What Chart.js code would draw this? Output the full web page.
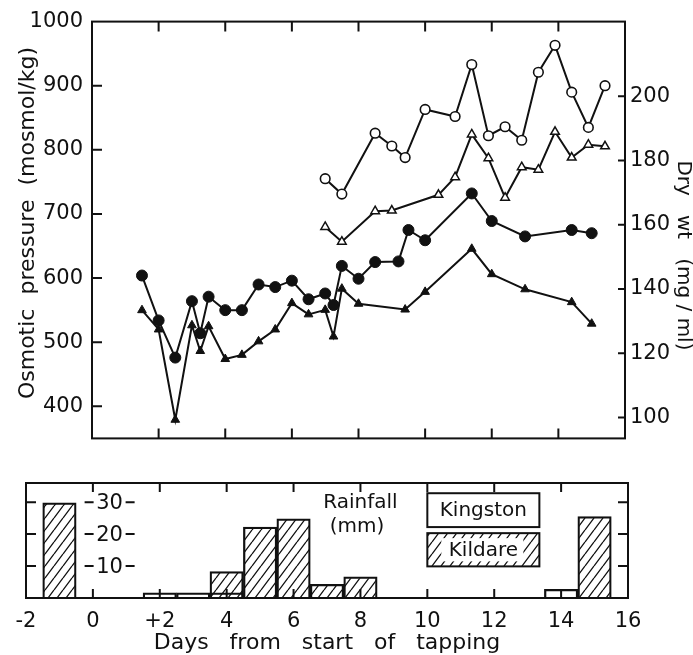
<!DOCTYPE html>
<html>
<head>
<meta charset="utf-8">
<script src="https://cdn.jsdelivr.net/npm/chart.js@4.4.1/dist/chart.umd.min.js"></script>
<style>
  html, body { margin: 0; padding: 0; background: #fff; }
  #wrap { position: relative; width: 693px; height: 655px; }
  #top { position: absolute; left: 0; top: 0; }
  #bottom { position: absolute; left: 0; top: 470px; }
</style>
</head>
<body>
<div id="wrap">
  <canvas id="top" width="693" height="460"></canvas>
  <canvas id="bottom" width="693" height="185"></canvas>
</div>
<script>
// osmotic pressure (mosmol/kg), left axis
const daysFilledCircle = [1.5, 2, 2.5, 3, 3.25, 3.5, 4, 4.5, 5, 5.5, 6, 6.5, 7, 7.25, 7.5, 8, 8.5, 9.2, 9.5, 10, 11.4, 12, 13, 14.4, 15];
const osmoticFilled = [604, 534, 476, 564, 514, 571, 550, 550, 590, 586, 596, 567, 576, 558, 619, 599, 625, 626, 675, 659, 732, 689, 665, 675, 670];
const daysOpenCircle = [7, 7.5, 8.5, 9, 9.4, 10, 10.9, 11.4, 11.9, 12.4, 12.9, 13.4, 13.9, 14.4, 14.9, 15.4];
const osmoticOpen = [755, 731, 826, 806, 788, 863, 852, 933, 822, 836, 815, 921, 963, 890, 835, 900];

// dry wt (mg/ml), right axis
const daysFilledTri = [1.5, 2, 2.5, 3, 3.25, 3.5, 4, 4.5, 5, 5.5, 6, 6.5, 7, 7.25, 7.5, 8, 9.4, 10, 11.4, 12, 13, 14.4, 15];
const dryWtFilled = [133.4, 127.4, 99.3, 128.7, 120.7, 128.4, 118.2, 119.5, 123.7, 127.4, 135.6, 132.1, 133.5, 125.2, 140.1, 135.4, 133.6, 139.1, 152.5, 144.6, 139.9, 135.9, 129.2];
const daysOpenTri = [7, 7.5, 8.5, 9, 10.4, 10.9, 11.4, 11.9, 12.4, 12.9, 13.4, 13.9, 14.4, 14.9, 15.4];
const dryWtOpen = [159.3, 154.7, 164.2, 164.4, 169.3, 174.8, 188.1, 180.7, 168.4, 177.9, 177.1, 188.9, 180.9, 184.9, 184.4];

// rainfall (mm)
const kingstonDays = [2, 3, 4, 14];
const kingstonRain = [1.6, 1.6, 1.6, 2.7];
const kildareDays = [-1, 4, 5, 6, 7, 8, 15];
const kildareRain = [29.8, 8.3, 22.2, 24.8, 4.3, 6.6, 25.5];

// tick labels
const osmoticTicks = [400, 500, 600, 700, 800, 900, 1000];
const dryWtTicks = [100, 120, 140, 160, 180, 200];
const rainTicks = [10, 20, 30];
const dayTicks = [-2, 0, 2, 4, 6, 8, 10, 12, 14, 16];
const innerDayTicksTop = [2, 4, 6, 8, 10, 12, 14];
const innerDayTicksBottom = [0, 2, 4, 6, 8, 10, 12, 14];

const INK = "#111";
Chart.defaults.font.family = '"DejaVu Sans", sans-serif';
Chart.defaults.font.size = 21;
Chart.defaults.color = INK;

function pts(xs, ys) {
    return xs.map((x, i) => ({ x: x, y: ys[i] }));
}

function makeHatch() {
    const c = document.createElement("canvas");
    c.width = 9;
    c.height = 12;
    const g = c.getContext("2d");
    g.strokeStyle = INK;
    g.lineWidth = 1.3;
    g.beginPath();
    g.moveTo(0, 12); g.lineTo(9, 0);
    g.moveTo(-9, 12); g.lineTo(0, 0);
    g.moveTo(9, 12); g.lineTo(18, 0);
    g.stroke();
    return g.createPattern(c, "repeat");
}
const hatch = makeHatch();

// box round the plot and ticks pointing inwards
const frameTicks = {
    id: "frameTicks",
    afterDraw(chart, args, o) {
        const { ctx, chartArea: a, scales } = chart;
        ctx.save();
        ctx.strokeStyle = INK;
        ctx.lineWidth = 2;
        ctx.strokeRect(a.left, a.top, a.right - a.left, a.bottom - a.top);
        ctx.beginPath();
        o.topTicks.forEach(v => {
            const px = scales.x.getPixelForValue(v);
            ctx.moveTo(px, a.top); ctx.lineTo(px, a.top + o.xLen);
        });
        o.bottomTicks.forEach(v => {
            const px = scales.x.getPixelForValue(v);
            ctx.moveTo(px, a.bottom); ctx.lineTo(px, a.bottom - o.xLen);
        });
        o.leftTicks.forEach(v => {
            const py = scales[o.leftId].getPixelForValue(v);
            ctx.moveTo(a.left, py); ctx.lineTo(a.left + o.leftLen, py);
        });
        o.rightTicks.forEach(v => {
            const py = scales[o.rightId].getPixelForValue(v);
            ctx.moveTo(a.right, py); ctx.lineTo(a.right - o.rightLen, py);
        });
        ctx.stroke();
        ctx.restore();
    }
};

// rainfall labels inside the box, and the legend
const rainExtras = {
    id: "rainExtras",
    afterDraw(chart) {
        const { ctx, scales: { x, y } } = chart;
        ctx.save();
        ctx.fillStyle = INK;
        ctx.strokeStyle = INK;
        ctx.lineWidth = 2;
        ctx.font = '21px "DejaVu Sans"';
        ctx.textAlign = "center";
        ctx.textBaseline = "middle";

        const cx = x.getPixelForValue(0.5);
        rainTicks.forEach(v => {
            const py = y.getPixelForValue(v);
            ctx.fillText(String(v), cx, py + 1);
            ctx.beginPath();
            ctx.moveTo(cx - 25, py); ctx.lineTo(cx - 16, py);
            ctx.moveTo(cx + 16, py); ctx.lineTo(cx + 25, py);
            ctx.stroke();
        });

        ctx.font = '20px "DejaVu Sans"';
        ctx.fillText("Rainfall", x.getPixelForValue(8), y.getPixelForValue(29.7));
        ctx.fillText("(mm)", x.getPixelForValue(7.9), y.getPixelForValue(22.2));

        const bx0 = x.getPixelForValue(10), bx1 = x.getPixelForValue(13.35);
        // Kingston
        let t = y.getPixelForValue(32.8), b = y.getPixelForValue(22.2);
        ctx.strokeRect(bx0, t, bx1 - bx0, b - t);
        ctx.fillText("Kingston", (bx0 + bx1) / 2, (t + b) / 2 + 1);
        // Kildare
        t = y.getPixelForValue(20.3); b = y.getPixelForValue(9.9);
        ctx.fillStyle = hatch;
        ctx.fillRect(bx0, t, bx1 - bx0, b - t);
        ctx.fillStyle = "#fff";
        ctx.fillRect(bx0 + 14, t + 5, bx1 - bx0 - 30, b - t - 10);
        ctx.strokeRect(bx0, t, bx1 - bx0, b - t);
        ctx.fillStyle = INK;
        ctx.fillText("Kildare", (bx0 + bx1) / 2, (t + b) / 2 + 1);
        ctx.restore();
    }
};

const lineStyle = {
    showLine: true,
    borderColor: INK,
    borderWidth: 2,
    pointBorderColor: INK
};

new Chart(document.getElementById("top"), {
    type: "scatter",
    data: {
        datasets: [
            Object.assign({}, lineStyle, {
                label: "Osmotic (open)",
                data: pts(daysOpenCircle, osmoticOpen),
                yAxisID: "y",
                pointStyle: "circle",
                pointRadius: 4.8,
                pointBorderWidth: 1.6,
                pointBackgroundColor: "#fff"
            }),
            Object.assign({}, lineStyle, {
                label: "Osmotic (filled)",
                data: pts(daysFilledCircle, osmoticFilled),
                yAxisID: "y",
                pointStyle: "circle",
                pointRadius: 5.5,
                pointBorderWidth: 1,
                pointBackgroundColor: INK
            }),
            Object.assign({}, lineStyle, {
                label: "Dry wt (open)",
                data: pts(daysOpenTri, dryWtOpen),
                yAxisID: "y2",
                pointStyle: "triangle",
                pointRadius: 5,
                pointBorderWidth: 1.5,
                pointBackgroundColor: "#fff"
            }),
            Object.assign({}, lineStyle, {
                label: "Dry wt (filled)",
                data: pts(daysFilledTri, dryWtFilled),
                yAxisID: "y2",
                pointStyle: "triangle",
                pointRadius: 5,
                pointBorderWidth: 1,
                pointBackgroundColor: INK
            })
        ]
    },
    options: {
        responsive: false,
        animation: false,
        layout: { padding: { top: 13 } },
        plugins: {
            legend: { display: false },
            tooltip: { enabled: false },
            frameTicks: {
                topTicks: innerDayTicksTop,
                bottomTicks: innerDayTicksTop,
                xLen: 10,
                leftId: "y",
                leftTicks: osmoticTicks.slice(0, -1),
                leftLen: 10,
                rightId: "y2",
                rightTicks: dryWtTicks,
                rightLen: 7
            }
        },
        scales: {
            x: {
                type: "linear",
                min: 0,
                max: 16,
                grid: { display: false, drawTicks: false },
                border: { display: false },
                ticks: { display: false },
                afterFit(s) { s.height = 12; }
            },
            y: {
                position: "left",
                min: 350,
                max: 1000,
                grid: { display: false, drawTicks: false },
                border: { display: false },
                afterBuildTicks(s) { s.ticks = osmoticTicks.map(v => ({ value: v })); },
                ticks: { padding: 9, callback: v => String(v) },
                title: {
                    display: true,
                    text: "  Osmotic  pressure  (mosmol/kg)",
                    font: { size: 22, lineHeight: 1 },
                    padding: { top: 17, bottom: 0 }
                },
                afterFit(s) { s.width = 92; }
            },
            y2: {
                position: "right",
                min: 93.5,
                max: 223.2,
                grid: { display: false, drawTicks: false },
                border: { display: false },
                afterBuildTicks(s) { s.ticks = dryWtTicks.map(v => ({ value: v })); },
                ticks: { padding: 5, callback: v => String(v) },
                title: {
                    display: true,
                    text: "        Dry   wt   (mg / ml)",
                    font: { size: 20, lineHeight: 1 },
                    padding: { top: 0, bottom: 0 }
                },
                afterFit(s) { s.width = 68; }
            }
        }
    },
    plugins: [frameTicks]
});

new Chart(document.getElementById("bottom"), {
    type: "bar",
    data: {
        datasets: [
            {
                label: "Kingston",
                data: pts(kingstonDays, kingstonRain),
                backgroundColor: "rgba(0,0,0,0)",
                borderColor: INK,
                borderWidth: 1.6
            },
            {
                label: "Kildare",
                data: pts(kildareDays, kildareRain),
                backgroundColor: hatch,
                borderColor: INK,
                borderWidth: 1.6
            }
        ]
    },
    options: {
        responsive: false,
        animation: false,
        layout: { padding: { top: 13, right: 65 } },
        datasets: { bar: { grouped: false, barPercentage: 1, categoryPercentage: 1 } },
        plugins: {
            legend: { display: false },
            tooltip: { enabled: false },
            frameTicks: {
                topTicks: innerDayTicksBottom,
                bottomTicks: innerDayTicksBottom,
                xLen: 9,
                leftId: "y",
                leftTicks: rainTicks,
                leftLen: 10,
                rightId: "y",
                rightTicks: rainTicks,
                rightLen: 10
            }
        },
        scales: {
            x: {
                type: "linear",
                offset: false,
                min: -2,
                max: 16,
                grid: { display: false, drawTicks: false, offset: false },
                border: { display: false },
                afterBuildTicks(s) { s.ticks = dayTicks.map(v => ({ value: v })); },
                ticks: {
                    padding: 11,
                    maxRotation: 0,
                    autoSkip: false,
                    callback: v => (v === 2 ? "+2" : String(v))
                },
                title: {
                    display: true,
                    text: "Days   from   start   of   tapping",
                    font: { size: 22, lineHeight: 1 },
                    padding: { top: 0, bottom: 1 }
                },
                afterFit(s) { s.height = 57; }
            },
            y: {
                min: 0,
                max: 36,
                grid: { display: false, drawTicks: false },
                border: { display: false },
                ticks: { display: false },
                afterFit(s) { s.width = 26; }
            }
        }
    },
    plugins: [frameTicks, rainExtras]
});
</script>
</body>
</html>
